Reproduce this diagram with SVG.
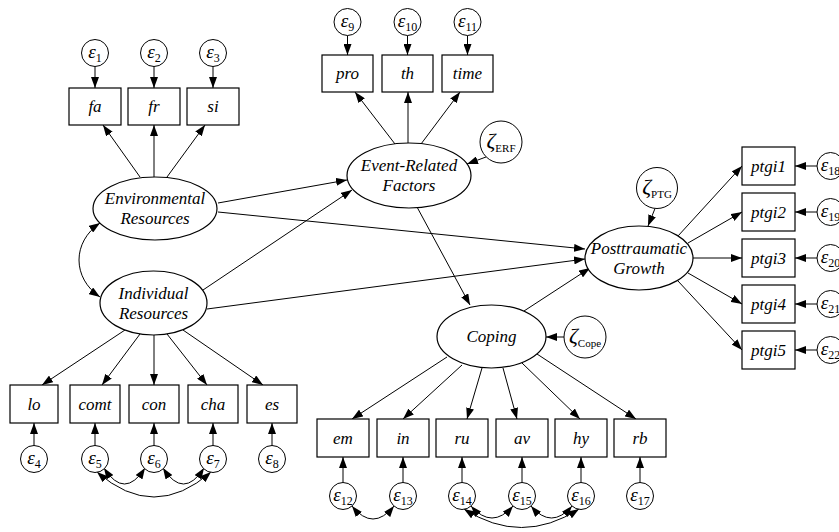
<svg xmlns="http://www.w3.org/2000/svg" width="839" height="532" viewBox="0 0 839 532">
<defs>
<style>
.box{fill:#fff;stroke:#000;stroke-width:1.2}
.lat{fill:#fff;stroke:#000;stroke-width:1.2}
.err{fill:#fff;stroke:#000;stroke-width:1}
.lbl{font-family:"Liberation Serif","Times New Roman",serif;font-style:italic;font-size:17px;text-anchor:middle;fill:#000}
.eps{font-family:"Liberation Serif","Times New Roman",serif;font-style:italic;font-size:19px;text-anchor:middle;fill:#000}
.zeta{font-family:"Liberation Serif","Times New Roman",serif;font-style:italic;font-size:22px;text-anchor:middle;fill:#000}
.sub{font-style:normal;font-size:12px}
.zeta .sub{font-size:11px}
.conn line,.conn path{stroke:#000;stroke-width:1;fill:none;marker-end:url(#ah)}
.conn .cov{marker-start:url(#ah)}
</style>
<marker id="ah" viewBox="0 0 11 8" refX="11" refY="4" markerWidth="11" markerHeight="8" markerUnits="userSpaceOnUse" orient="auto-start-reverse"><path d="M0,0 L11,4 L0,8 z" fill="#000"/></marker>
</defs>
<rect width="839" height="532" fill="#fff"/>
<g id="connectors" class="conn">
<line x1="95" y1="66.5" x2="95" y2="88"/>
<line x1="154" y1="66.5" x2="154" y2="88"/>
<line x1="213" y1="66.5" x2="213" y2="88"/>
<line x1="347.5" y1="35.5" x2="347.5" y2="55"/>
<line x1="407.5" y1="35.5" x2="407.5" y2="55"/>
<line x1="467.5" y1="35.5" x2="467.5" y2="55"/>
<line x1="817" y1="166" x2="795" y2="166"/>
<line x1="817" y1="212" x2="795" y2="212"/>
<line x1="817" y1="258" x2="795" y2="258"/>
<line x1="817" y1="304" x2="795" y2="304"/>
<line x1="817" y1="350" x2="795" y2="350"/>
<line x1="34" y1="446" x2="34" y2="423"/>
<line x1="95" y1="446" x2="95" y2="423"/>
<line x1="154" y1="446" x2="154" y2="423"/>
<line x1="213" y1="446" x2="213" y2="423"/>
<line x1="272" y1="446" x2="272" y2="423"/>
<line x1="343" y1="482.5" x2="343" y2="457"/>
<line x1="403" y1="482.5" x2="403" y2="457"/>
<line x1="462" y1="482.5" x2="462" y2="457"/>
<line x1="522" y1="482.5" x2="522" y2="457"/>
<line x1="581" y1="482.5" x2="581" y2="457"/>
<line x1="640" y1="482.5" x2="640" y2="457"/>
<line x1="140" y1="177" x2="103" y2="125"/>
<line x1="154" y1="177" x2="154" y2="125"/>
<line x1="167" y1="177" x2="205" y2="125"/>
<line x1="395" y1="144" x2="355" y2="92"/>
<line x1="408" y1="143" x2="408" y2="92"/>
<line x1="421" y1="144" x2="460" y2="92"/>
<line x1="678" y1="236" x2="742" y2="166"/>
<line x1="688" y1="243" x2="742" y2="212"/>
<line x1="693" y1="258" x2="742" y2="258"/>
<line x1="688" y1="273" x2="742" y2="304"/>
<line x1="678" y1="281" x2="742" y2="350"/>
<line x1="125" y1="330" x2="42" y2="385"/>
<line x1="140" y1="334" x2="102" y2="385"/>
<line x1="154" y1="335" x2="154" y2="385"/>
<line x1="167" y1="334" x2="207" y2="385"/>
<line x1="183" y1="330" x2="263" y2="385"/>
<line x1="447" y1="357" x2="352" y2="419"/>
<line x1="462" y1="365" x2="403" y2="419"/>
<line x1="482" y1="368" x2="467" y2="419"/>
<line x1="503" y1="368" x2="517" y2="419"/>
<line x1="522" y1="363" x2="580" y2="419"/>
<line x1="537" y1="354" x2="636" y2="419"/>
<line x1="218" y1="203" x2="347" y2="180"/>
<line x1="218" y1="212" x2="585" y2="249"/>
<line x1="203" y1="290" x2="352" y2="190"/>
<line x1="207" y1="309" x2="585" y2="259"/>
<line x1="417" y1="207" x2="470" y2="305"/>
<line x1="524" y1="311" x2="590" y2="268"/>
<line x1="486" y1="157" x2="467" y2="164"/>
<line x1="655" y1="208.5" x2="648" y2="226"/>
<line x1="564" y1="337" x2="546" y2="337"/>
<path class="cov" d="M100,223 C72,242 72,278 100,297"/>
<path class="cov" d="M104,468 Q124.5,500 145,468"/>
<path class="cov" d="M163,468 Q183.5,500 204,468"/>
<path class="cov" d="M97,472 Q154,522 211,472"/>
<path class="cov" d="M352,506 Q373,532 394,506"/>
<path class="cov" d="M471,506 Q492,530 513,506"/>
<path class="cov" d="M531,506 Q551.5,530 572,506"/>
<path class="cov" d="M464,509 Q521.5,546 579,509"/>
</g>
<g id="env"><ellipse class="lat" cx="155" cy="208.5" rx="62" ry="31.5"/><text class="lbl" x="155" y="204">Environmental</text><text class="lbl" x="155" y="224">Resources</text></g>
<g id="ind"><ellipse class="lat" cx="153.5" cy="303" rx="53.5" ry="32"/><text class="lbl" x="153.5" y="299">Individual</text><text class="lbl" x="153.5" y="319">Resources</text></g>
<g id="erf"><ellipse class="lat" cx="409" cy="175.5" rx="62" ry="32.5"/><text class="lbl" x="409" y="171">Event-Related</text><text class="lbl" x="409" y="191">Factors</text></g>
<g id="ptg"><ellipse class="lat" cx="639" cy="258" rx="54" ry="32"/><text class="lbl" x="639" y="254">Posttraumatic</text><text class="lbl" x="639" y="274">Growth</text></g>
<g id="cope"><ellipse class="lat" cx="491.5" cy="336.5" rx="54.5" ry="31.5"/><text class="lbl" x="491.5" y="342">Coping</text></g>
<g id="zerf"><circle class="err" cx="501" cy="142" r="21"/><text class="zeta" x="501" y="148">ζ<tspan class="sub" dy="4">ERF</tspan></text></g>
<g id="zptg"><circle class="err" cx="657" cy="188" r="20.5"/><text class="zeta" x="657" y="194">ζ<tspan class="sub" dy="4">PTG</tspan></text></g>
<g id="zcope"><circle class="err" cx="585" cy="337" r="21"/><text class="zeta" x="585" y="343">ζ<tspan class="sub" dy="4">Cope</tspan></text></g>
<g id="fa"><rect class="box" x="69" y="88" width="52" height="37"/><text class="lbl" x="95" y="112">fa</text></g>
<g id="fr"><rect class="box" x="128" y="88" width="52" height="37"/><text class="lbl" x="154" y="112">fr</text></g>
<g id="si"><rect class="box" x="187" y="88" width="52" height="37"/><text class="lbl" x="213" y="112">si</text></g>
<g id="pro"><rect class="box" x="322" y="55" width="51" height="37"/><text class="lbl" x="347.5" y="79">pro</text></g>
<g id="th"><rect class="box" x="382" y="55" width="51" height="37"/><text class="lbl" x="407.5" y="79">th</text></g>
<g id="time"><rect class="box" x="442" y="55" width="51" height="37"/><text class="lbl" x="467.5" y="79">time</text></g>
<g id="ptgi1"><rect class="box" x="742" y="147" width="53" height="38"/><text class="lbl" x="768.5" y="172">ptgi1</text></g>
<g id="ptgi2"><rect class="box" x="742" y="193" width="53" height="38"/><text class="lbl" x="768.5" y="218">ptgi2</text></g>
<g id="ptgi3"><rect class="box" x="742" y="239" width="53" height="38"/><text class="lbl" x="768.5" y="264">ptgi3</text></g>
<g id="ptgi4"><rect class="box" x="742" y="285" width="53" height="38"/><text class="lbl" x="768.5" y="310">ptgi4</text></g>
<g id="ptgi5"><rect class="box" x="742" y="331" width="53" height="38"/><text class="lbl" x="768.5" y="356">ptgi5</text></g>
<g id="lo"><rect class="box" x="10" y="385" width="48" height="38"/><text class="lbl" x="34" y="410">lo</text></g>
<g id="comt"><rect class="box" x="70" y="385" width="50" height="38"/><text class="lbl" x="95" y="410">comt</text></g>
<g id="con"><rect class="box" x="129" y="385" width="50" height="38"/><text class="lbl" x="154" y="410">con</text></g>
<g id="cha"><rect class="box" x="188" y="385" width="50" height="38"/><text class="lbl" x="213" y="410">cha</text></g>
<g id="es"><rect class="box" x="247" y="385" width="50" height="38"/><text class="lbl" x="272" y="410">es</text></g>
<g id="em"><rect class="box" x="317" y="419" width="52" height="38"/><text class="lbl" x="343" y="444">em</text></g>
<g id="in"><rect class="box" x="377" y="419" width="52" height="38"/><text class="lbl" x="403" y="444">in</text></g>
<g id="ru"><rect class="box" x="436" y="419" width="52" height="38"/><text class="lbl" x="462" y="444">ru</text></g>
<g id="av"><rect class="box" x="496" y="419" width="52" height="38"/><text class="lbl" x="522" y="444">av</text></g>
<g id="hy"><rect class="box" x="555" y="419" width="52" height="38"/><text class="lbl" x="581" y="444">hy</text></g>
<g id="rb"><rect class="box" x="614" y="419" width="52" height="38"/><text class="lbl" x="640" y="444">rb</text></g>
<g id="e1"><circle class="err" cx="95" cy="53" r="13.5"/><text class="eps" x="95" y="58">ε<tspan class="sub" dy="4">1</tspan></text></g>
<g id="e2"><circle class="err" cx="154" cy="53" r="13.5"/><text class="eps" x="154" y="58">ε<tspan class="sub" dy="4">2</tspan></text></g>
<g id="e3"><circle class="err" cx="213" cy="53" r="13.5"/><text class="eps" x="213" y="58">ε<tspan class="sub" dy="4">3</tspan></text></g>
<g id="e9"><circle class="err" cx="347.5" cy="22" r="13.5"/><text class="eps" x="347.5" y="27">ε<tspan class="sub" dy="4">9</tspan></text></g>
<g id="e10"><circle class="err" cx="407.5" cy="22" r="13.5"/><text class="eps" x="407.5" y="27">ε<tspan class="sub" dy="4">10</tspan></text></g>
<g id="e11"><circle class="err" cx="467.5" cy="22" r="13.5"/><text class="eps" x="467.5" y="27">ε<tspan class="sub" dy="4">11</tspan></text></g>
<g id="e18"><circle class="err" cx="830.5" cy="166" r="13.5"/><text class="eps" x="830.5" y="171">ε<tspan class="sub" dy="4">18</tspan></text></g>
<g id="e19"><circle class="err" cx="830.5" cy="212" r="13.5"/><text class="eps" x="830.5" y="217">ε<tspan class="sub" dy="4">19</tspan></text></g>
<g id="e20"><circle class="err" cx="830.5" cy="258" r="13.5"/><text class="eps" x="830.5" y="263">ε<tspan class="sub" dy="4">20</tspan></text></g>
<g id="e21"><circle class="err" cx="830.5" cy="304" r="13.5"/><text class="eps" x="830.5" y="309">ε<tspan class="sub" dy="4">21</tspan></text></g>
<g id="e22"><circle class="err" cx="830.5" cy="350" r="13.5"/><text class="eps" x="830.5" y="355">ε<tspan class="sub" dy="4">22</tspan></text></g>
<g id="e4"><circle class="err" cx="34" cy="459" r="13.5"/><text class="eps" x="34" y="464">ε<tspan class="sub" dy="4">4</tspan></text></g>
<g id="e5"><circle class="err" cx="95" cy="459" r="13.5"/><text class="eps" x="95" y="464">ε<tspan class="sub" dy="4">5</tspan></text></g>
<g id="e6"><circle class="err" cx="154" cy="459" r="13.5"/><text class="eps" x="154" y="464">ε<tspan class="sub" dy="4">6</tspan></text></g>
<g id="e7"><circle class="err" cx="213" cy="459" r="13.5"/><text class="eps" x="213" y="464">ε<tspan class="sub" dy="4">7</tspan></text></g>
<g id="e8"><circle class="err" cx="272" cy="459" r="13.5"/><text class="eps" x="272" y="464">ε<tspan class="sub" dy="4">8</tspan></text></g>
<g id="e12"><circle class="err" cx="343" cy="496" r="13.5"/><text class="eps" x="343" y="501">ε<tspan class="sub" dy="4">12</tspan></text></g>
<g id="e13"><circle class="err" cx="403" cy="496" r="13.5"/><text class="eps" x="403" y="501">ε<tspan class="sub" dy="4">13</tspan></text></g>
<g id="e14"><circle class="err" cx="462" cy="496" r="13.5"/><text class="eps" x="462" y="501">ε<tspan class="sub" dy="4">14</tspan></text></g>
<g id="e15"><circle class="err" cx="522" cy="496" r="13.5"/><text class="eps" x="522" y="501">ε<tspan class="sub" dy="4">15</tspan></text></g>
<g id="e16"><circle class="err" cx="581" cy="496" r="13.5"/><text class="eps" x="581" y="501">ε<tspan class="sub" dy="4">16</tspan></text></g>
<g id="e17"><circle class="err" cx="640" cy="496" r="13.5"/><text class="eps" x="640" y="501">ε<tspan class="sub" dy="4">17</tspan></text></g>
</svg>
